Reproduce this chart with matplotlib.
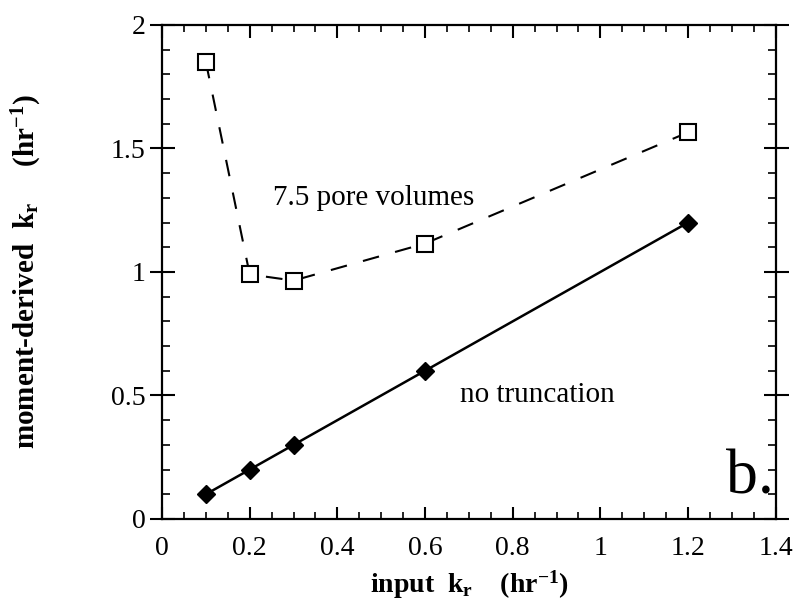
import matplotlib
matplotlib.use("Agg")
import matplotlib.pyplot as plt
from matplotlib.ticker import MultipleLocator

plt.rcParams['font.family'] = ['Liberation Serif', 'DejaVu Serif']
plt.rcParams['mathtext.fontset'] = 'custom'
plt.rcParams['mathtext.rm'] = 'Liberation Serif'
plt.rcParams['mathtext.bf'] = 'Liberation Serif:bold'
plt.rcParams['mathtext.it'] = 'Liberation Serif:italic'

# input kr (hr^-1)
input_kr = [0.1, 0.2, 0.3, 0.6, 1.2]
# moment-derived kr, 7.5 pore volumes
truncated_kr = [1.85, 0.99, 0.965, 1.115, 1.565]
# moment-derived kr, no truncation
full_kr = [0.1, 0.2, 0.3, 0.6, 1.2]

fig = plt.figure(figsize=(7.95, 6.07), dpi=100)
ax = fig.add_axes([0.2038, 0.145, 0.772, 0.814])

ax.plot(input_kr, truncated_kr, color='black', lw=1.5, ls=(0, (8, 8)),
        marker='s', ms=11, mfc='white', mec='black', mew=1.5)
ax.plot(input_kr, full_kr, color='black', lw=1.8,
        marker='D', ms=9, mfc='black', mec='black')

ax.set_xlim(0, 1.4)
ax.set_ylim(0, 2)
ax.xaxis.set_major_locator(MultipleLocator(0.2))
ax.xaxis.set_minor_locator(MultipleLocator(0.05))
ax.yaxis.set_major_locator(MultipleLocator(0.5))
ax.yaxis.set_minor_locator(MultipleLocator(0.1))
ax.set_xticks([0, 0.2, 0.4, 0.6, 0.8, 1.0, 1.2, 1.4],
              ['0', '0.2', '0.4', '0.6', '0.8', '1', '1.2', '1.4'])
ax.set_yticks([0, 0.5, 1.0, 1.5, 2.0], ['0', '0.5', '1', '1.5', '2'])

ax.tick_params(axis='x', which='major', direction='in', length=9, width=1.5,
               top=True, labelsize=20, pad=12)
ax.tick_params(axis='x', which='minor', direction='in', length=5, width=1.2, top=True)
ax.tick_params(axis='y', which='major', direction='inout', length=18, width=1.5,
               right=True, labelsize=20, pad=3)
ax.tick_params(axis='y', which='minor', direction='in', length=6, width=1.2, right=True)
for s in ax.spines.values():
    s.set_linewidth(1.6)

ax.set_xlabel(r'input  $\mathbf{k_r}$    (hr$^{\mathbf{-1}}$)', fontsize=20,
              fontweight='bold', labelpad=6)
ax.set_ylabel(r'moment-derived  $\mathbf{k_r}$     (hr$^{\mathbf{-1}}$)', fontsize=21,
              fontweight='bold', labelpad=48)

ax.text(0.253, 1.30, '7.5 pore volumes', fontsize=21, va='center', ha='left')
ax.text(0.68, 0.50, 'no truncation', fontsize=21, va='center', ha='left')
ax.text(1.395, 0.045, 'b.', fontsize=46, va='bottom', ha='right')

fig.savefig('out.png', dpi=100)
